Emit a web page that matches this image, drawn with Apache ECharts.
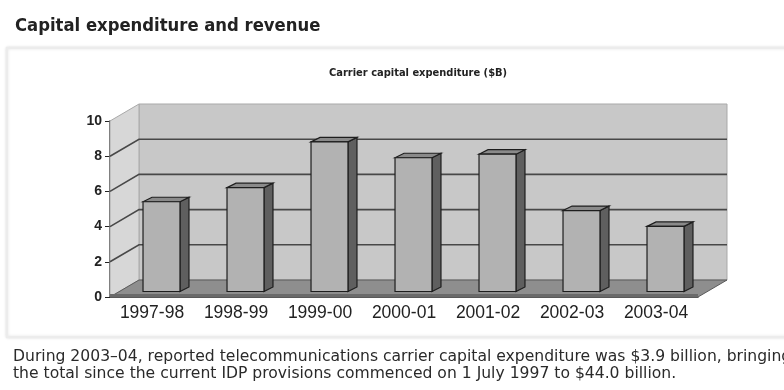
<!DOCTYPE html>
<html>
<head>
<meta charset="utf-8">
<script src="https://cdn.jsdelivr.net/npm/echarts@6/dist/echarts.min.js"></script>
<style>
  html, body { margin: 0; padding: 0; background: #fff; }
  #capex-chart { width: 784px; height: 390px; }
</style>
</head>
<body>
<div id="capex-chart"></div>
<script>
// carrier capex by financial year, $ billion
var categories = ["1997-98", "1998-99", "1999-00", "2000-01", "2001-02", "2002-03", "2003-04"];
var capex = [5.1, 5.9, 8.5, 7.6, 7.8, 4.6, 3.7];
var yTicks = [0, 2, 4, 6, 8, 10];

var heading = "Capital expenditure and revenue";
var chartTitle = "Carrier capital expenditure ($B)";
var caption = "During 2003\u201304, reported telecommunications carrier capital expenditure was $3.9 billion, bringing\nthe total since the current IDP provisions commenced on 1 July 1997 to $44.0 billion.";

// fake 3d: back wall pushed right/up, bars sit a bit behind the front plane
var WALL_DX = 29, WALL_DY = -17;
var FACE_DX = 9.5, FACE_DY = -5.5;
var BAR_DX = 9, BAR_DY = -4.5;

function renderWalls(params, api) {
  var bw = api.size([1, 0])[0];
  var first = api.coord([0, 0]);
  var last = api.coord([categories.length - 1, 0]);
  var left = first[0] - bw / 2;
  var right = last[0] + bw / 2;
  var y0 = first[1];
  var yTop = api.coord([0, yTicks[yTicks.length - 1]])[1];
  var kids = [];

  // back wall
  kids.push({
    type: "rect",
    shape: { x: left + WALL_DX, y: yTop + WALL_DY, width: right - left, height: y0 - yTop },
    style: { fill: "#c8c8c8", stroke: "#a9a9a9", lineWidth: 1 }
  });
  // left side wall
  kids.push({
    type: "polygon",
    shape: { points: [[left, yTop], [left + WALL_DX, yTop + WALL_DY], [left + WALL_DX, y0 + WALL_DY], [left, y0]] },
    style: { fill: "#d7d7d7", stroke: "#a9a9a9", lineWidth: 1 }
  });
  // grid lines on both walls
  yTicks.forEach(function (t) {
    if (t === 0 || t === yTicks[yTicks.length - 1]) return;
    var y = api.coord([0, t])[1];
    kids.push({
      type: "polyline",
      shape: { points: [[left, y], [left + WALL_DX, y + WALL_DY], [right + WALL_DX, y + WALL_DY]] },
      style: { fill: null, stroke: "#484848", lineWidth: 1.6 }
    });
  });
  // floor
  kids.push({
    type: "polygon",
    shape: { points: [[left, y0], [right, y0], [right + WALL_DX, y0 + WALL_DY], [left + WALL_DX, y0 + WALL_DY]] },
    style: { fill: "#8e8e8e", stroke: "#5a5a5a", lineWidth: 1 }
  });
  kids.push({
    type: "line",
    shape: { x1: left, y1: y0 - 1.5, x2: right, y2: y0 - 1.5 },
    style: { stroke: "#6a6a6a", lineWidth: 3 }
  });
  return { type: "group", children: kids };
}

function renderBar(params, api) {
  var base = api.coord([api.value(0), 0]);
  var top = api.coord([api.value(0), api.value(1)]);
  var w = api.size([1, 0])[0] * 0.44;
  var x0 = base[0] + FACE_DX - w / 2;
  var x1 = x0 + w;
  var yb = base[1] + FACE_DY;
  var yt = top[1] + FACE_DY;
  var edge = { stroke: "#1e1e1e", lineWidth: 1.2 };
  return {
    type: "group",
    children: [
      {
        type: "polygon",
        shape: { points: [[x1, yt], [x1 + BAR_DX, yt + BAR_DY], [x1 + BAR_DX, yb + BAR_DY], [x1, yb]] },
        style: Object.assign({ fill: "#5f5f5f" }, edge)
      },
      {
        type: "polygon",
        shape: { points: [[x0, yt], [x0 + BAR_DX, yt + BAR_DY], [x1 + BAR_DX, yt + BAR_DY], [x1, yt]] },
        style: Object.assign({ fill: "#8a8a8a" }, edge)
      },
      {
        type: "rect",
        shape: { x: x0, y: yt, width: w, height: yb - yt },
        style: Object.assign({ fill: "#b2b2b2" }, edge)
      }
    ]
  };
}

var myChart = echarts.init(document.getElementById("capex-chart"));
myChart.setOption({
  backgroundColor: "#fff",
  animation: false,
  title: [
    {
      text: heading,
      left: 10,
      top: 12,
      textStyle: { fontFamily: "DejaVu Sans Condensed", fontWeight: "bold", fontSize: 18.3, color: "#222" }
    },
    {
      text: chartTitle,
      left: 324,
      top: 63,
      textStyle: { fontFamily: "DejaVu Sans Condensed", fontWeight: "bold", fontSize: 11, color: "#222" }
    }
  ],
  graphic: [
    {
      type: "rect",
      z: -10,
      shape: { x: 7, y: 48, width: 820, height: 289 },
      style: { fill: "#fff", stroke: "#ececec", lineWidth: 2, shadowBlur: 3, shadowColor: "rgba(0,0,0,0.12)" }
    },
    {
      type: "text",
      left: 13,
      top: 348,
      style: {
        text: caption,
        fontFamily: "DejaVu Sans",
        fontSize: 15.6,
        lineHeight: 17,
        fill: "#2a2a2a"
      }
    }
  ],
  grid: { left: 110, right: 86, top: 121, bottom: 93 },
  xAxis: {
    type: "category",
    data: categories,
    axisLine: { lineStyle: { color: "#222", width: 1.5 } },
    axisTick: { length: 4, lineStyle: { color: "#222" } },
    axisLabel: { interval: 0, fontFamily: "Liberation Sans", fontSize: 17.5, color: "#222", margin: 7 }
  },
  yAxis: {
    type: "value",
    min: 0,
    max: 10,
    interval: 2,
    splitLine: { show: false },
    axisLine: { show: true, lineStyle: { color: "#222", width: 1.5 } },
    axisTick: { show: true, length: 5, lineStyle: { color: "#222" } },
    axisLabel: { fontFamily: "Liberation Sans", fontSize: 14, fontWeight: "bold", color: "#222", margin: 8 }
  },
  series: [
    {
      type: "custom",
      name: "walls",
      renderItem: renderWalls,
      clip: false,
      z: 1,
      data: [[0, 0]]
    },
    {
      type: "custom",
      name: "Carrier capital expenditure",
      renderItem: renderBar,
      clip: false,
      z: 3,
      encode: { x: 0, y: 1 },
      data: capex.map(function (v, i) { return [i, v]; })
    }
  ]
});
</script>
</body>
</html>
